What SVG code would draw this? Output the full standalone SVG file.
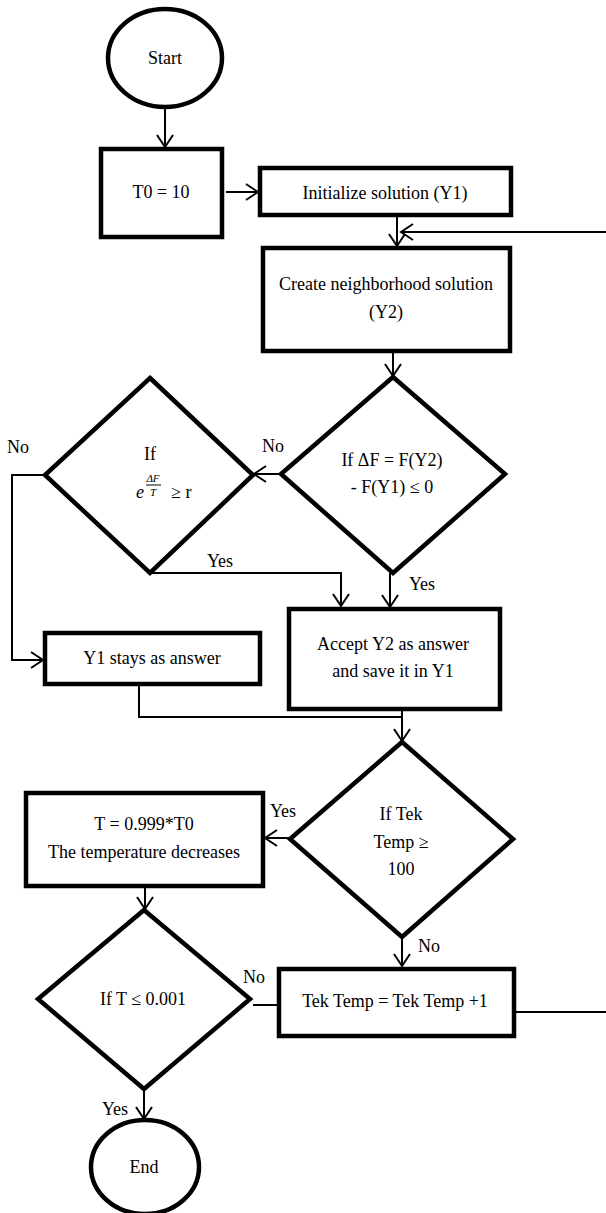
<svg xmlns="http://www.w3.org/2000/svg" width="606" height="1213" viewBox="0 0 606 1213" font-family="'Liberation Serif', 'DejaVu Serif', serif" font-size="18">
<defs>
<marker id="arr" markerUnits="userSpaceOnUse" markerWidth="16" markerHeight="20" refX="13" refY="9" orient="auto" viewBox="0 0 16 18">
<path d="M1,1 L13,9 L1,17" fill="none" stroke="#000" stroke-width="2"/>
</marker>
<style>
.n{fill:#fff;stroke:#000;stroke-width:4.5;stroke-linejoin:miter}
.c{fill:none;stroke:#000;stroke-width:2}
text{font-family:'Liberation Serif','DejaVu Serif',serif;font-size:18px;fill:#000}
.m{text-anchor:middle}
.i{font-style:italic}
.s{font-size:11px}
</style>
</defs>
<rect width="606" height="1213" fill="#fff"/>
<g id="connectors">
<line class="c" x1="165" y1="108" x2="165" y2="147" marker-end="url(#arr)"/>
<line class="c" x1="226" y1="192" x2="258" y2="192" marker-end="url(#arr)"/>
<line class="c" x1="397" y1="217" x2="397" y2="246" marker-end="url(#arr)"/>
<line class="c" x1="606" y1="232" x2="401" y2="232" marker-end="url(#arr)"/>
<line class="c" x1="393" y1="352" x2="393" y2="376" marker-end="url(#arr)"/>
<line class="c" x1="281" y1="474" x2="254" y2="474" marker-end="url(#arr)"/>
<polyline class="c" points="45,475 12,475 12,660 43,660" marker-end="url(#arr)"/>
<polyline class="c" points="150,573 341,573 341,606" marker-end="url(#arr)"/>
<line class="c" x1="390" y1="573" x2="390" y2="607" marker-end="url(#arr)"/>
<polyline class="c" points="139,685 139,717 402,717"/>
<line class="c" x1="402" y1="710" x2="402" y2="741" marker-end="url(#arr)"/>
<line class="c" x1="290" y1="838" x2="265" y2="838" marker-end="url(#arr)"/>
<line class="c" x1="402" y1="937" x2="402" y2="966" marker-end="url(#arr)"/>
<line class="c" x1="145" y1="887" x2="145" y2="909" marker-end="url(#arr)"/>
<line class="c" x1="253" y1="1005" x2="278" y2="1005"/>
<line class="c" x1="514" y1="1012" x2="606" y2="1012"/>
<line class="c" x1="144" y1="1089" x2="144" y2="1119" marker-end="url(#arr)"/>
<text x="273" y="452" class="m">No</text>
<text x="18" y="453" class="m">No</text>
<text x="220" y="567" class="m">Yes</text>
<text x="422" y="590" class="m">Yes</text>
<text x="283" y="817" class="m">Yes</text>
<text x="429" y="952" class="m">No</text>
<text x="254" y="983" class="m">No</text>
<text x="115" y="1115" class="m">Yes</text>
</g>
<g id="start">
<ellipse class="n" cx="165" cy="58" rx="57" ry="49"/>
<text x="165" y="64" class="m">Start</text>
</g>
<g id="t0">
<rect class="n" x="101" y="149" width="121" height="88"/>
<text x="161" y="198" class="m">T0 = 10</text>
</g>
<g id="init">
<rect class="n" x="260" y="168" width="251" height="47"/>
<text x="385" y="199" class="m">Initialize solution (Y1)</text>
</g>
<g id="create">
<rect class="n" x="263" y="248" width="247" height="103"/>
<text x="386" y="290" class="m">Create neighborhood solution</text>
<text x="386" y="318" class="m">(Y2)</text>
</g>
<g id="d1">
<polygon class="n" points="393,377 505,474 393,573 281,474"/>
<text x="392" y="466" class="m">If ΔF = F(Y2)</text>
<text x="392" y="493" class="m">- F(Y1) ≤ 0</text>
</g>
<g id="d2">
<polygon class="n" points="150,378 253,475 150,573 45,475"/>
<text x="150" y="460" class="m">If</text>
<text x="136" y="498" class="i">e</text>
<text x="153" y="482" class="m i s">ΔF</text>
<line x1="146" y1="485" x2="161" y2="485" stroke="#000" stroke-width="1"/>
<text x="153" y="496" class="m i s">T</text>
<text x="171" y="498">≥ r</text>
</g>
<g id="accept">
<rect class="n" x="289" y="609" width="211" height="100"/>
<text x="393" y="650" class="m">Accept Y2 as answer</text>
<text x="393" y="677" class="m">and save it in Y1</text>
</g>
<g id="y1stays">
<rect class="n" x="45" y="633" width="215" height="51"/>
<text x="152" y="664" class="m">Y1 stays as answer</text>
</g>
<g id="d3">
<polygon class="n" points="402,742 513,839 402,937 290,839"/>
<text x="401" y="820" class="m">If Tek</text>
<text x="401" y="848" class="m">Temp ≥</text>
<text x="401" y="875" class="m">100</text>
</g>
<g id="tbox">
<rect class="n" x="26" y="793" width="237" height="93"/>
<text x="144" y="830" class="m">T = 0.999*T0</text>
<text x="144" y="858" class="m">The temperature decreases</text>
</g>
<g id="d4">
<polygon class="n" points="144,910 250,999 144,1089 38,999"/>
<text x="143" y="1005" class="m">If T ≤ 0.001</text>
</g>
<g id="tek">
<rect class="n" x="279" y="969" width="235" height="67"/>
<text x="395" y="1007" class="m">Tek Temp = Tek Temp +1</text>
</g>
<g id="end">
<ellipse class="n" cx="145" cy="1167" rx="54" ry="47"/>
<text x="144" y="1173" class="m">End</text>
</g>
</svg>
